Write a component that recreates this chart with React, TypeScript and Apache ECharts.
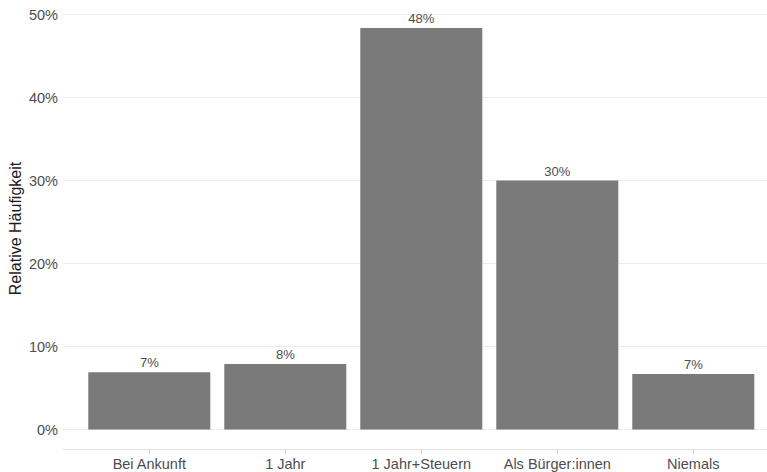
import React, { useEffect, useRef } from "react";
import * as echarts from "echarts";

const categories = ["Bei Ankunft", "1 Jahr", "1 Jahr+Steuern", "Als Bürger:innen", "Niemals"];
const shares = [0.069, 0.079, 0.484, 0.300, 0.067];
const yTicks = [0, 0.1, 0.2, 0.3, 0.4, 0.5];
const yTitle = "Relative Häufigkeit";

const W = 767;
const H = 472;

export default function App() {
  const ref = useRef<HTMLDivElement>(null);
  useEffect(() => {
    if (!ref.current) return;
    const chart = echarts.init(ref.current, undefined, { renderer: "svg" });
    const font = "'Liberation Sans', Arial, Helvetica, sans-serif";
    const gridLeft = 63;
    const step = 136; // px per category
    const firstCenter = 149.3;
    const xMin = 1 - (firstCenter - gridLeft) / step;
    const xMax = xMin + (W - gridLeft) / step;
    const positions = categories.map((_, i) => i + 1);
    chart.setOption({
      animation: false,
      backgroundColor: "#ffffff",
      grid: { left: gridLeft, right: 0, top: 14.7, bottom: H - 429.5, containLabel: false },
      xAxis: {
        type: "value",
        min: xMin,
        max: xMax,
        offset: 20,
        splitLine: { show: false },
        axisLine: { show: true, onZero: false, lineStyle: { color: "#e3e3e3", width: 1 } },
        axisTick: { show: true, customValues: positions, length: 4, lineStyle: { color: "#d0d0d0" } },
        axisLabel: {
          customValues: positions,
          formatter: (v: number) => categories[Math.round(v) - 1] ?? "",
          color: "#4d4d4d",
          fontSize: 14.5,
          fontFamily: font,
          margin: 7,
        },
      },
      yAxis: {
        type: "value",
        min: yTicks[0],
        max: yTicks[yTicks.length - 1],
        interval: 0.1,
        axisLine: { show: false },
        axisTick: { show: false },
        splitLine: { show: true, lineStyle: { color: "#ebebeb", width: 1.2 } },
        axisLabel: {
          formatter: (v: number) => Math.round(v * 100) + "%",
          color: "#4d4d4d",
          fontSize: 14.5,
          fontFamily: font,
          margin: 5,
        },
      },
      graphic: [
        {
          type: "text",
          x: 15,
          y: 228.5,
          rotation: Math.PI / 2,
          style: {
            text: yTitle,
            fill: "#1a1a1a",
            font: `16px ${font}`,
            align: "center",
            verticalAlign: "middle",
          },
        },
      ],
      series: [
        {
          type: "bar",
          data: shares.map((v, i) => [positions[i], v]),
          barWidth: 122,
          itemStyle: { color: "#7a7a7a" },
          label: {
            show: true,
            position: "top",
            distance: 3,
            formatter: (p: any) => Math.round(p.value[1] * 100) + "%",
            color: "#4d4d4d",
            fontSize: 13,
            fontFamily: font,
          },
        },
      ],
    });
    return () => chart.dispose();
  }, []);
  return (
    <div
      ref={ref}
      style={{ position: "fixed", left: 0, top: 0, width: W, height: H, background: "#fff" }}
    />
  );
}
